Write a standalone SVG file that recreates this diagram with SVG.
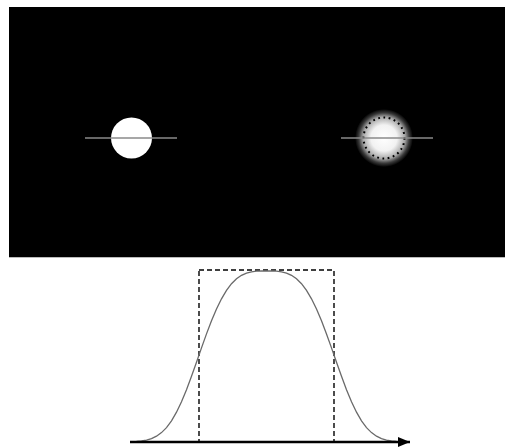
<svg xmlns="http://www.w3.org/2000/svg" width="505" height="448" viewBox="0 0 505 448">
<defs>
<style>
.scan{stroke:#8a8a8a;stroke-width:1.5;fill:none}
.curve{stroke:#6a6a6a;stroke-width:1.3;fill:none}
.dash{stroke:#000;stroke-width:1.4;stroke-dasharray:5 3;fill:none}
</style>
<radialGradient id="glow" cx="0.5" cy="0.5" r="0.5">
<stop offset="0" stop-color="#fff"/>
<stop offset="0.45" stop-color="#f2f2f2"/>
<stop offset="0.72" stop-color="#a8a8a8"/>
<stop offset="0.87" stop-color="#3a3a3a"/>
<stop offset="1" stop-color="#000"/>
</radialGradient>
<marker id="arrow" markerWidth="12" markerHeight="10" refX="12" refY="5" orient="auto" markerUnits="userSpaceOnUse">
<path d="M0,0 L12,5 L0,10 Z" fill="#000"/>
</marker>
</defs>
<rect width="505" height="448" fill="#fff"/>
<g id="image">
<rect x="9" y="7" width="496" height="250" fill="#000"/>
<line x1="9" y1="257.5" x2="505" y2="257.5" stroke="#bbb" stroke-width="1"/>
</g>
<g id="sharp-spot">
<circle cx="131.5" cy="138" r="20.5" fill="#fff"/>
<line class="scan" x1="85" y1="138" x2="177" y2="138"/>
</g>
<g id="blurred-spot">
<circle cx="384" cy="138" r="29" fill="url(#glow)"/>
<circle cx="384" cy="138" r="20.5" fill="none" stroke="#000" stroke-width="2" stroke-dasharray="1.8 3.5"/>
<line class="scan" x1="341" y1="138" x2="433" y2="138"/>
</g>
<g id="profile">
<rect class="dash" x="199" y="270" width="135" height="172"/>
<path class="curve" d="M131.5,441.8 L136.5,441.5 L141.5,441 L146.5,440.1 L151.5,438.6 L156.5,436.2 L161.5,432.6 L166.5,427.6 L171.5,420.8 L176.5,412.2 L181.5,401.8 L186.5,389.7 L191.5,376.3 L196.5,362.2 L201.5,347.9 L206.5,333.9 L211.5,320.8 L216.5,308.9 L221.5,298.8 L226.5,290.4 L231.5,283.7 L236.5,278.8 L241.5,275.3 L246.5,273.1 L251.5,271.8 L256.5,271.2 L261.5,271 L266.5,271 L271.5,271 L276.5,271.2 L281.5,271.8 L286.5,273.1 L291.5,275.3 L296.5,278.8 L301.5,283.7 L306.5,290.4 L311.5,298.8 L316.5,308.9 L321.5,320.8 L326.5,333.9 L331.5,347.9 L336.5,362.2 L341.5,376.3 L346.5,389.7 L351.5,401.8 L356.5,412.2 L361.5,420.8 L366.5,427.6 L371.5,432.6 L376.5,436.2 L381.5,438.6 L386.5,440.1 L391.5,441 L396.5,441.5 L401.5,441.8"/>
</g>
<g id="connectors">
<line x1="130" y1="442" x2="410" y2="442" stroke="#000" stroke-width="2.5" marker-end="url(#arrow)"/>
</g>
</svg>
